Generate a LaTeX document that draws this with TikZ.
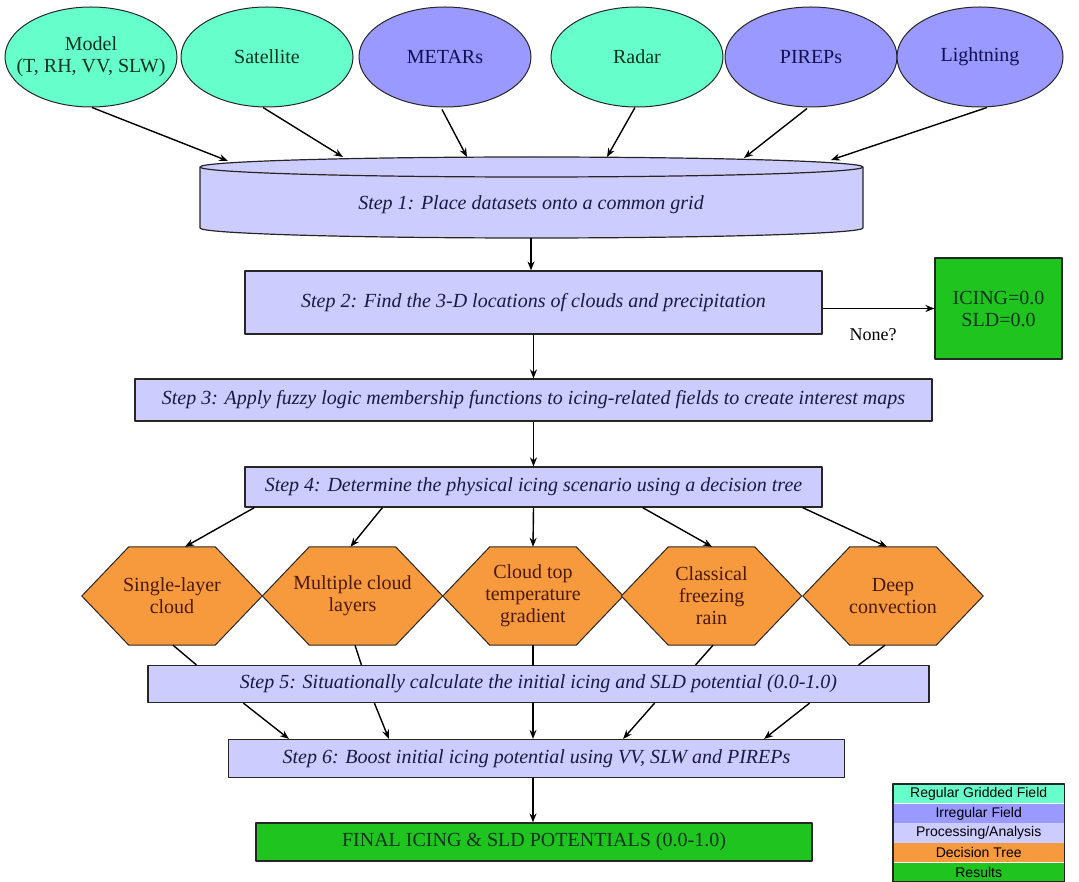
\documentclass[tikz,border=0pt]{standalone}
\usepackage{fontspec}
\setmainfont{Liberation Serif}
\newfontfamily\legendfont{Liberation Sans}
\usetikzlibrary{arrows.meta,shapes.geometric,backgrounds}

\definecolor{gridded}{HTML}{66FFCC}
\definecolor{irregular}{HTML}{9999FF}
\definecolor{process}{HTML}{CCCCFF}
\definecolor{decision}{HTML}{F79A3E}
\definecolor{result}{HTML}{1FC41F}
\definecolor{edge}{HTML}{262626}
\definecolor{gtext}{HTML}{0D3320}
\definecolor{btext}{HTML}{101050}
\definecolor{stext}{HTML}{1A1A40}
\definecolor{htext}{HTML}{4A1A05}

\begin{document}
\begin{tikzpicture}[x=1pt,y=-1pt,line join=round,
  conn/.style={-{Stealth[length=9pt,width=7pt]},line width=1.4pt,draw=black},
  plain/.style={line width=1.4pt,draw=black},
  source/.style={ellipse,draw=edge,line width=1pt,minimum width=172pt,
    minimum height=100pt,inner sep=0pt,align=center,
    font=\fontsize{20}{22}\selectfont},
  griddedsrc/.style={source,fill=gridded,text=gtext},
  irregsrc/.style={source,fill=irregular,text=btext},
  stepbox/.style={rectangle,draw=edge,line width=1.2pt,fill=process,
    inner sep=0pt,text=stext,font=\fontsize{20}{22}\selectfont\itshape},
  resultbox/.style={rectangle,draw=edge,line width=1.2pt,fill=result,
    inner sep=0pt,align=center,text=gtext,font=\fontsize{20}{22}\selectfont},
  hexlabel/.style={rectangle,minimum width=180pt,minimum height=98pt,
    inner sep=0pt,align=center,text=htext,font=\fontsize{20}{22}\selectfont},
  hexshape/.style={draw=edge,line width=1pt,fill=decision},
  legendrow/.style={rectangle,minimum width=171pt,minimum height=19.2pt,
    inner sep=0pt,font=\legendfont\fontsize{14}{15}\selectfont}]

\useasboundingbox (0,0) rectangle (1079,882);

% data sources
\node[griddedsrc] (model) at (91,57) {Model\\\makebox[0pt]{(T, RH, VV, SLW)}};
\node[griddedsrc] (sat)   at (267,57) {Satellite};
\node[irregsrc]   (metar) at (445,57) {METARs};
\node[griddedsrc] (radar) at (637,57) {Radar};
\node[irregsrc]   (pirep) at (811,57) {PIREPs};
\node[irregsrc,minimum width=166pt] (light) at (980,57) {Lightning};

% step 1: flat cylinder
\draw[draw=edge,line width=1.2pt,fill=process]
  (200,167) -- (200,228)
  arc[start angle=180,end angle=360,x radius=331.5pt,y radius=10pt]
  -- (863,167)
  arc[start angle=0,end angle=180,x radius=331.5pt,y radius=10pt] -- cycle;
\draw[draw=edge,line width=1.2pt]
  (200,167) arc[start angle=180,end angle=360,x radius=331.5pt,y radius=10pt];
\node[text=stext,font=\fontsize{20}{22}\selectfont\itshape] (s1) at (531,205)
  {Step 1: Place datasets onto a common grid};
\coordinate (t1) at (228,161);
\coordinate (t2) at (343,157);
\coordinate (t3) at (467,157);
\coordinate (t4) at (607,157);
\coordinate (t5) at (744,158);
\coordinate (t6) at (831,160);

\draw[conn] ([xshift=1pt]model.south) -- (t1);
\draw[conn] ([xshift=-4pt]sat.south) -- (t2);
\draw[conn] ([xshift=-3pt,yshift=-2pt]metar.south) -- (t3);
\draw[conn] ([xshift=-2pt]radar.south) -- (t4);
\draw[conn] ([xshift=-4pt,yshift=-1pt]pirep.south) -- (t5);
\draw[conn] ([xshift=7pt]light.south) -- (t6);

% processing steps
\node[stepbox,minimum width=577pt,minimum height=63pt] (s2) at (533.5,302.5)
  {Step 2: Find the 3-D locations of clouds and precipitation};
\node[resultbox,minimum width=127pt,minimum height=101pt] (none) at (998.5,308.5)
  {ICING=0.0\\SLD=0.0};
\node[stepbox,minimum width=797pt,minimum height=42pt] (s3) at (533.5,400)
  {Step 3: Apply fuzzy logic membership functions to icing-related fields to create interest maps};
\node[stepbox,minimum width=577pt,minimum height=40pt] (s4) at (533.5,487)
  {Step 4: Determine the physical icing scenario using a decision tree};

\coordinate (s1b) at (531,238);
\draw[conn] (s1b) -- (s2.north -| s1b);
\draw[conn] (s2.east |- none.west) -- (none.west);
\node[font=\fontsize{18}{20}\selectfont] (nonelabel) at (873,335) {None?};
\draw[conn] (s2.south) -- (s3.north);
\draw[conn] (s3.south) -- (s4.north);

% decision tree scenarios
\node[hexlabel] (h1) at (172,596) {Single-layer\\cloud};
\node[hexlabel] (h2) at (352.5,596) {Multiple cloud\\layers};
\node[hexlabel] (h3) at (533,596) {Cloud top\\temperature\\gradient};
\node[hexlabel] (h4) at (711.5,596) {Classical\\freezing\\rain};
\node[hexlabel] (h5) at (893,596) {Deep\\convection};
\begin{scope}[on background layer]
  \foreach \h in {h1,h2,h3,h4,h5}{
    \draw[hexshape] (\h.west) -- ([xshift=47pt]\h.north west)
      -- ([xshift=-47pt]\h.north east) -- (\h.east)
      -- ([xshift=-47pt]\h.south east) -- ([xshift=47pt]\h.south west) -- cycle;
  }
\end{scope}

\draw[conn] ([xshift=10pt]s4.south west) -- ([xshift=13pt]h1.north);
\draw[conn] ([xshift=138pt]s4.south west) -- ([xshift=-2pt]h2.north);
\draw[conn] (s4.south) -- (h3.north);
\draw[conn] ([xshift=-180pt]s4.south east) -- ([xshift=0.5pt]h4.north);
\draw[conn] ([xshift=-20pt]s4.south east) -- ([xshift=-6pt]h5.north);

\node[stepbox,minimum width=781pt,minimum height=37pt] (s5) at (538.5,684)
  {Step 5: Situationally calculate the initial icing and SLD potential (0.0-1.0)};

\draw[plain] ([xshift=1pt]h1.south) -- ([xshift=49pt]s5.north west);
\draw[plain] ([xshift=2.5pt]h2.south) -- ([xshift=214pt]s5.north west);
\draw[plain] (h3.south) -- (h3.south |- s5.north);
\draw[plain] ([xshift=1.5pt]h4.south) -- ([xshift=-234pt]s5.north east);
\draw[plain] ([xshift=-8pt]h5.south) -- ([xshift=-71pt]s5.north east);

\node[stepbox,minimum width=616pt,minimum height=38pt] (s6) at (536.5,758.5)
  {Step 6: Boost initial icing potential using VV, SLW and PIREPs};

\draw[conn] ([xshift=96pt]s5.south west) -- ([xshift=61pt]s6.north west);
\draw[conn] ([xshift=227pt]s5.south west) -- ([xshift=161pt]s6.north west);
\draw[conn] (s5.south -| h3.south) -- (s6.north -| h3.south);
\draw[conn] ([xshift=-275pt]s5.south east) -- ([xshift=-222pt]s6.north east);
\draw[conn] ([xshift=-120pt]s5.south east) -- ([xshift=-81pt]s6.north east);

\node[resultbox,minimum width=556pt,minimum height=38pt] (final) at (534,842)
  {FINAL ICING \& SLD POTENTIALS (0.0-1.0)};
\draw[conn] (s6.south -| h3.south) -- (final.north -| h3.south);

% legend
\node[legendrow,fill=gridded,anchor=north west] (lg1) at (893,784) {Regular Gridded Field};
\node[legendrow,fill=irregular,anchor=north] (lg2) at (lg1.south) {Irregular Field};
\node[legendrow,fill=process,anchor=north] (lg3) at (lg2.south) {Processing/Analysis};
\node[legendrow,fill=decision,anchor=north] (lg4) at (lg3.south) {Decision Tree};
\node[legendrow,fill=result,anchor=north] (lg5) at (lg4.south) {Results};
\draw[draw=edge,line width=1.2pt] (lg1.north west) rectangle (lg5.south east);
\end{tikzpicture}
\end{document}
